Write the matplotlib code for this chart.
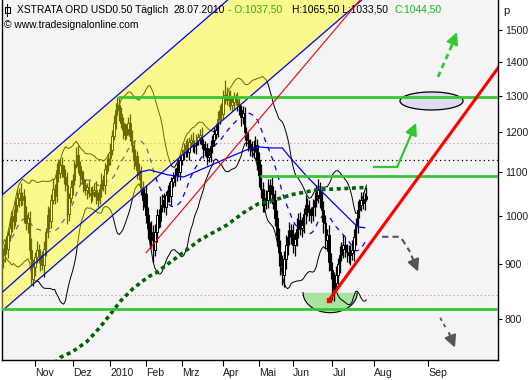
import numpy as np
import pandas as pd
import matplotlib
matplotlib.use("Agg")
import matplotlib.pyplot as plt
from matplotlib.lines import Line2D
from matplotlib.patches import Rectangle

plt.rcParams["font.family"] = ["Liberation Sans", "DejaVu Sans"]

# daily closes, 06.10.2009 .. 28.07.2010 (bar index 0..203)
closes = [
    919, 940, 930, 960, 975, 1000, 990, 1025, 1040, 1052, 1035, 1045, 1003, 985, 995, 929, 872,
    895, 915, 929, 918, 905, 899, 930, 965, 1003, 990, 1036, 1060, 1045, 1106, 1098, 1118, 1105,
    1090, 1070, 1005, 1040, 1065, 1082, 1120, 1143, 1115, 1094, 1085, 1070, 1059, 1065, 1052, 1047, 1055,
    1059, 1045, 1036, 1060, 1082, 1070, 1108, 1118, 1135, 1155, 1190, 1225, 1260, 1274, 1250, 1225, 1205,
    1194, 1210, 1225, 1190, 1168, 1130, 1140, 1105, 1094, 1065, 1036, 1050, 1003, 975, 950, 965, 929,
    965, 1003, 990, 1025, 1035, 1020, 1047, 1058, 1045, 1078, 1085, 1094, 1110, 1100, 1130, 1145, 1155,
    1168, 1150, 1175, 1181, 1165, 1168, 1180, 1188, 1194, 1170, 1155, 1160, 1138, 1143, 1165, 1181, 1195,
    1207, 1235, 1260, 1250, 1295, 1302, 1288, 1295, 1274, 1282, 1292, 1288, 1275, 1260, 1240, 1250, 1200,
    1181, 1170, 1160, 1155, 1162, 1168, 1130, 1094, 1060, 1025, 1040, 1036, 1055, 1070, 1050, 1036, 995,
    960, 925, 899, 880, 910, 939, 955, 970, 962, 940, 950, 972, 992, 975, 981, 1005, 1025,
    1015, 1008, 1003, 1020, 1036, 1048, 1059, 1040, 1014, 985, 950, 960, 905, 890, 852, 865, 880,
    900, 919, 930, 939, 930, 925, 919, 922, 929, 955, 981, 1014, 1025, 1036, 1030, 1037.5, 1044.5,
]
first_open = 905
wick_hi = [
    14, 10, 17, 9, 20, 12, 15, 10, 18, 12, 22, 10, 15, 20, 13, 17, 24,
    15, 10, 18, 13, 12, 21, 17, 10, 20, 15, 13, 23, 12, 17, 26, 15, 20,
    13, 18, 30, 12, 17, 15, 10, 20, 24, 13, 12, 18, 15, 10, 17, 13, 12,
    15, 20, 10, 13, 17, 12, 15, 18, 13, 17, 15, 21, 20, 21, 24, 17, 15,
    20, 13, 17, 23, 15, 12, 18, 13, 17, 21, 15, 12, 20, 17, 13, 24, 15,
    18, 13, 12, 20, 15, 17, 10, 13, 18, 12, 15, 17, 13, 20, 15, 12, 17,
    13, 18, 12, 15, 20, 13, 17, 10, 15, 21, 13, 17, 12, 18, 15, 13, 20,
    17, 23, 15, 18, 20, 43, 24, 17, 20, 15, 18, 13, 23, 17, 15, 21, 18,
    15, 20, 13, 17, 18, 23, 15, 20, 26, 17, 21, 18, 28, 15, 20, 17, 23,
    18, 15, 24, 20, 17, 21, 15, 18, 13, 20, 17, 23, 15, 18, 17, 13, 21,
    15, 20, 13, 17, 18, 23, 24, 17, 15, 20, 18, 13, 21, 17, 15, 20, 17,
    13, 18, 15, 20, 17, 12, 15, 18, 21, 17, 15, 20, 13, 17, 18, 15, 21,
]
wick_lo = [
    12, 15, 9, 18, 13, 10, 17, 12, 15, 20, 13, 10, 17, 15, 21, 18, 12,
    13, 17, 12, 15, 18, 10, 23, 13, 12, 17, 15, 10, 18, 13, 20, 12, 15,
    17, 13, 23, 15, 12, 18, 13, 10, 17, 21, 13, 15, 12, 20, 10, 17, 13,
    12, 18, 15, 10, 17, 13, 20, 12, 15, 18, 13, 10, 17, 15, 20, 13, 23,
    15, 12, 18, 13, 17, 21, 15, 20, 13, 17, 23, 15, 18, 24, 17, 17, 24,
    12, 20, 15, 13, 17, 10, 18, 15, 13, 20, 12, 17, 15, 10, 18, 13, 15,
    17, 12, 20, 13, 15, 18, 23, 13, 17, 12, 21, 15, 20, 13, 17, 18, 15,
    13, 20, 12, 17, 15, 18, 13, 21, 15, 17, 20, 13, 18, 15, 23, 17, 20,
    15, 18, 21, 17, 20, 13, 24, 28, 20, 17, 15, 21, 18, 26, 23, 20, 17,
    24, 28, 20, 20, 23, 18, 21, 15, 20, 17, 23, 13, 18, 15, 20, 17, 21,
    15, 18, 17, 13, 20, 15, 18, 23, 26, 21, 20, 24, 17, 18, 19, 21, 15,
    20, 17, 13, 18, 15, 21, 17, 20, 13, 23, 15, 17, 18, 13, 15, 17, 4,
]

# smoothed averages (bar index, price)
sma50_x = [0, 25, 50, 77, 82, 92, 101, 114, 127, 136, 142.5, 149, 156, 160, 170, 181, 194, 198, 202]
sma50_y = [848, 925, 1005, 1101, 1106, 1094, 1089, 1113, 1138, 1155, 1163, 1160, 1160, 1138, 1089, 1043, 992, 977, 975]
sma200_x = [29, 32, 38.7, 47, 53.7, 59.9, 66, 72.7, 81.1, 85.6, 99, 110.2, 125.2, 134.2, 142.5, 152, 161.4, 175.4, 186.6, 200.5, 203]
sma200_y = [726, 735, 744, 761, 783, 807, 832, 854, 876, 884, 919, 950, 981, 1007, 1027, 1036, 1048, 1059, 1061, 1064, 1064]

month_pos = [18, 39, 60, 80, 100, 123, 143, 162, 184, 207, 237.5]
month_lbl = ["Nov", "Dez", "2010", "Feb", "Mrz", "Apr", "Mai", "Jun", "Jul", "Aug", "Sep"]
price_ticks = [800, 900, 1000, 1100, 1200, 1300, 1400, 1500]

green = "#33c833"
gray = "#555555"
txtcol = "#1c1c2c"

c = np.array(closes, dtype=float)
o = np.array([first_open] + closes[:-1], dtype=float)
hi = np.maximum(o, c) + np.array(wick_hi)
lo = np.minimum(o, c) - np.array(wick_lo)
x = np.arange(len(c))
up = c >= o

s = pd.Series(c)
sma20 = s.rolling(20, min_periods=1).mean()
sd20 = s.rolling(20, min_periods=2).std(ddof=0).bfill()
bb_up = sma20 + 2 * sd20
bb_lo = sma20 - 2 * sd20

fig = plt.figure(figsize=(5.32, 3.8), dpi=100, facecolor="white")
ax = fig.add_axes([1.5 / 532, 20 / 380, 496.5 / 532, 360 / 380])
ax.set_facecolor("#f4f4f4")
ax.set_yscale("log")
ax.set_xlim(-0.7, 276.4)
ax.set_ylim(731, 1601)

# horizontal levels
ax.axhline(1173, color="#d08a8a", lw=0.8, ls=(0, (1, 2.5)), zorder=1)
ax.axhline(1130, color="black", lw=0.9, ls=(0, (1, 2.5)), zorder=1)
ax.axhline(843, color="#d08a8a", lw=0.8, ls=(0, (1, 2.5)), zorder=1)

# green bowl under the july low
t = np.linspace(np.pi, 2 * np.pi, 60)
bx = 182.7 + 15.1 * np.cos(t)
by = 846.4 * np.exp(0.0435 * np.sin(t))
ax.fill(bx, by, color="#a8e4a0", lw=0, zorder=1.5)
ax.plot(bx, by, color="black", lw=0.8, zorder=1.6)

# bollinger bands + 20er average
ax.plot(x, bb_up, color="black", lw=0.7, zorder=2)
ax.plot(x, bb_lo, color="black", lw=0.7, zorder=2)
ax.plot(x, sma20, color="#0000ff", lw=0.9, ls=(0, (4, 4)), zorder=2)

# candles
ax.vlines(x, lo, hi, color="black", lw=0.9, zorder=2.1)
ax.bar(x[up], (c - o)[up] + 0.5, bottom=o[up], width=0.8, color="white",
       edgecolor="black", lw=0.7, zorder=2.2)
ax.bar(x[~up], (o - c)[~up], bottom=c[~up], width=0.8, color="black",
       edgecolor="black", lw=0.7, zorder=2.2)

# trend channel
xs = np.linspace(-2, 205, 300)
ch_up = 1048.5 * np.exp(0.003372 * xs)
ch_lo = 814.6 * np.exp(0.003372 * xs)
ax.fill_between(xs, ch_lo, ch_up, color="#ffff00", alpha=0.42, lw=0, zorder=3)
ax.plot(xs, ch_up, color="#0000ff", lw=0.9, zorder=4)
ax.plot(xs, ch_lo, color="#0000ff", lw=0.9, zorder=4)

ax.plot(sma50_x, sma50_y, color="#0000ff", lw=0.9, zorder=4)
ax.plot(sma200_x, sma200_y, color="#006400", lw=2.6, ls=(0, (1.1, 1.0)), zorder=4)

# support / resistance lines
ax.hlines(1296.5, 64.3, 280, color=green, lw=2, zorder=5)
ax.hlines(1091.7, 143.6, 280, color=green, lw=2, zorder=5)
ax.hlines(817.5, -1, 280, color=green, lw=2, zorder=5)

# trend lines
ax.plot([79.97, 205], [923.3, 1643], color="red", lw=0.8, zorder=5)
ax.plot([182.1, 290], [833, 1485], color="red", lw=2.2, zorder=5, solid_capstyle="butt")
ax.plot([182.1], [833], marker="s", ms=2.2, color="red", zorder=5)

# target ellipse
t2 = np.linspace(0, 2 * np.pi, 100)
ax.fill(239.3 + 17.6 * np.cos(t2), 1285 * np.exp(0.0196 * np.sin(t2)),
        facecolor="#dcdcf5", edgecolor="black", lw=0.9, zorder=4.5)

# arrows
head = dict(arrowstyle="-|>,head_length=0.7,head_width=0.35", lw=1.6, shrinkA=0, shrinkB=0)
ax.plot([207.2, 220.1], [1113, 1113], color=green, lw=1.6, zorder=6)
ax.annotate("", xy=(230.7, 1225), xytext=(220.1, 1113),
            arrowprops=dict(head, color=green), zorder=6)
ax.plot([242.9, 251.0], [1354, 1455], color=green, lw=2, ls=(0, (2, 1.5)), zorder=6)
ax.annotate("", xy=(253.5, 1493), xytext=(250.5, 1450),
            arrowprops=dict(head, color=green), zorder=6)
ax.plot([211.7, 221.7, 223.4, 227.3], [956, 956, 948, 925], color=gray, lw=1.5,
        ls=(0, (3, 2)), zorder=6)
ax.annotate("", xy=(231.8, 886), xytext=(228.3, 916),
            arrowprops=dict(head, color=gray), zorder=6)
ax.plot([244.1, 247.8], [801.6, 781], color=gray, lw=1.3, ls=(0, (2, 2)), zorder=6)
ax.annotate("", xy=(252.4, 751), xytext=(249.1, 775),
            arrowprops=dict(head, color=gray), zorder=6)

# axes
for side in ["left", "bottom", "right"]:
    ax.spines[side].set_color("black")
    ax.spines[side].set_linewidth(1)
ax.spines["top"].set_visible(False)
ax.yaxis.tick_right()
ax.set_yticks(price_ticks)
ax.set_yticklabels([str(v) for v in price_ticks])
ax.yaxis.set_minor_locator(matplotlib.ticker.NullLocator())
ax.tick_params(axis="y", direction="out", length=3, width=0.8, pad=2,
               labelsize=7.5, labelcolor=txtcol)
ax.set_xticks(month_pos)
ax.set_xticklabels(month_lbl)
ax.tick_params(axis="x", direction="out", length=4, width=0.8, pad=2,
               labelsize=7.6, labelcolor=txtcol)
for lbl in ax.get_xticklabels():
    lbl.set_ha("left")

fig.text(503 / 532, 1 - 11 / 380, "p", fontsize=8, va="center", color=txtcol)

# header
y1 = 1 - 10 / 380
fig.add_artist(Line2D([7 / 532, 7 / 532], [1 - 4 / 380, 1 - 16 / 380], color="black", lw=0.8))
fig.add_artist(Rectangle((5 / 532, 1 - 13 / 380), 4.5 / 532, 6 / 380,
                         facecolor="white", edgecolor="black", lw=0.8))
fs = 7.4
fig.text(17 / 532, y1, "XSTRATA ORD USD0.50 Täglich", fontsize=fs, va="center")
fig.text(173 / 532, y1, "28.07.2010", fontsize=fs, va="center")
fig.text(228 / 532, y1, "- O:1037,50", fontsize=fs, va="center", color="#22b322")
fig.text(292 / 532, y1, "H:1065,50 L:1033,50", fontsize=fs, va="center")
fig.text(395 / 532, y1, "C:1044,50", fontsize=fs, va="center", color="#22b322")
fig.text(4 / 532, 1 - 25 / 380, "© www.tradesignalonline.com", fontsize=fs, va="center")

fig.savefig("out.png", dpi=100, facecolor="white")
